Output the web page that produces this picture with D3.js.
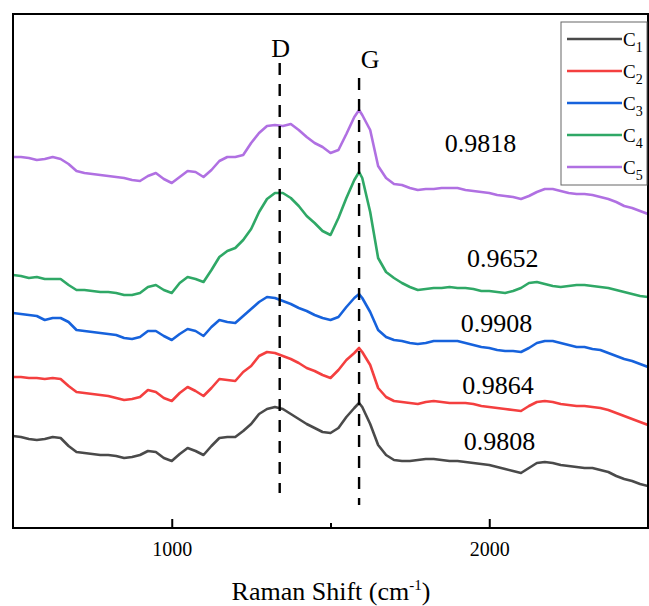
<!DOCTYPE html>
<html>
<head>
<meta charset="utf-8">
<title>Raman spectra</title>
<style>
  body { margin: 0; background: #fff; }
  text { font-family: "Liberation Serif", "Times New Roman", serif; fill: #000; }
</style>
</head>
<body>
<script src="https://cdn.jsdelivr.net/npm/d3@7/dist/d3.min.js"></script>
<script>
// Raman shift sampling (cm-1)
var shift = d3.range(500, 1576, 25).concat([1590], d3.range(1600, 2501, 25));

// intensities (a.u., offset stacked)
var c1 = [92,91,89,88,89,91,90,82,76,75,
  74,73,73,72,70,71,73,77,76,70,
  67,74,80,77,73,82,90,91,91,97,
  104,114,119,121,119,114,109,104,100,96,
  95,100,111,120,
  125,
  121,104,83,73,68,67,67,68,69,69,
  68,67,67,66,65,64,63,61,59,57,
  55,60,65,66,65,63,62,61,60,60,
  58,56,52,49,47,44,42];
var c2 = [151,151,150,150,149,150,149,142,136,135,
  134,133,132,130,128,129,131,138,136,130,
  127,135,141,137,132,140,149,148,147,156,
  162,172,176,175,172,169,165,160,157,153,
  150,158,168,175,
  180,
  176,163,140,131,127,126,125,124,126,127,
  126,125,125,125,124,122,121,120,119,118,
  117,122,126,127,126,124,123,122,122,121,
  120,118,115,112,109,106,103];
var c3 = [215,214,213,212,208,210,210,206,198,197,
  196,195,194,193,190,189,191,197,197,192,
  188,194,199,197,192,201,208,206,205,212,
  219,226,231,230,227,224,220,217,213,210,
  208,211,221,230,
  234,
  230,216,198,191,188,187,185,184,185,187,
  187,187,187,185,183,181,180,178,177,177,
  176,180,185,187,187,185,183,181,181,179,
  178,175,172,169,167,164,161];
var c4 = [253,252,250,251,249,249,249,243,238,238,
  237,236,236,235,233,233,235,241,243,238,
  235,245,251,249,246,258,271,277,280,288,
  299,316,329,335,335,330,322,312,305,297,
  293,310,330,348,
  356,
  350,316,270,256,250,245,241,238,239,240,
  240,241,240,240,239,237,237,236,235,237,
  240,245,246,244,242,241,242,243,243,242,
  241,240,238,236,234,232,231];
var c5 = [371,371,370,368,369,371,369,364,357,355,
  354,353,352,351,350,348,347,352,355,349,
  345,351,357,356,351,358,367,371,371,373,
  385,395,402,403,402,404,398,391,385,381,
  375,378,394,411,
  418,
  413,398,362,350,344,343,340,338,339,339,
  340,340,340,338,337,336,335,333,332,331,
  329,332,336,339,339,337,335,334,334,333,
  331,329,326,322,320,317,314];

var seriesNames = ["C1", "C2", "C3", "C4", "C5"];
var seriesValues = [c1, c2, c3, c4, c5];
var seriesColors = ["#4a4a4a", "#f43f3f", "#1662dc", "#2fa866", "#b070e2"];

// correlation values written next to each curve
var ratioLabels = ["0.9808", "0.9864", "0.9908", "0.9652", "0.9818"];
var ratioPos = [[1920, 78], [1915, 134], [1910, 196], [1930, 261], [1860, 376]];

// D and G band markers: position, top, bottom (a.u.)
var bands = [
  {name: "D", shift: 1340, top: 465, bottom: 35},
  {name: "G", shift: 1590, top: 450, bottom: 23}
];

var majorTicks = [1000, 2000];
var minorTicks = [1500];

var W = 649, H = 606;
var margin = {top: 14, right: 1, bottom: 78, left: 13};
var width = W - margin.left - margin.right,
    height = H - margin.top - margin.bottom;

var x = d3.scaleLinear().domain([500, 2500]).range([0, width]);
var y = d3.scaleLinear().domain([0, 514]).range([height, 0]);

var svg = d3.select("body").append("svg")
    .attr("width", W)
    .attr("height", H);
var g = svg.append("g")
    .attr("transform", "translate(" + margin.left + "," + margin.top + ")");

var clip = g.append("clipPath").attr("id", "clip");
clip.append("rect").attr("width", width).attr("height", height);

// spectra
var line = d3.line()
    .x(function(d) { return x(d[0]); })
    .y(function(d) { return y(d[1]); });

var plot = g.append("g").attr("clip-path", "url(#clip)");
seriesValues.forEach(function(vals, i) {
  plot.append("path")
      .datum(shift.map(function(s, j) { return [s, vals[j]]; }))
      .attr("fill", "none")
      .attr("stroke", seriesColors[i])
      .attr("stroke-width", 2.6)
      .attr("stroke-linejoin", "round")
      .attr("d", line);
});

// dashed band lines
bands.forEach(function(b) {
  g.append("line")
      .attr("x1", x(b.shift)).attr("x2", x(b.shift))
      .attr("y1", y(b.top)).attr("y2", y(b.bottom))
      .attr("stroke", "#000")
      .attr("stroke-width", 2.4)
      .attr("stroke-dasharray", "12,9");
});
g.append("text").attr("x", x(1340) + 1).attr("y", 43)
    .attr("text-anchor", "middle").style("font-size", "26px").text("D");
g.append("text").attr("x", x(1590) + 11).attr("y", 54)
    .attr("text-anchor", "middle").style("font-size", "26px").text("G");

// ratio labels
ratioLabels.forEach(function(t, i) {
  g.append("text")
      .attr("x", x(ratioPos[i][0]))
      .attr("y", y(ratioPos[i][1]))
      .style("font-size", "26px")
      .text(t);
});

// x axis, ticks pointing inward
var xAxis = g.append("g")
    .attr("transform", "translate(0," + height + ")")
    .call(d3.axisBottom(x).tickValues(majorTicks).tickSize(-9).tickPadding(14)
      .tickFormat(d3.format("d")));
xAxis.select(".domain").remove();
xAxis.selectAll("line").attr("stroke-width", 2);
xAxis.selectAll("text")
    .style("font-family", "Liberation Serif, Times New Roman, serif")
    .style("font-size", "20px");

var xMinor = g.append("g")
    .attr("transform", "translate(0," + height + ")")
    .call(d3.axisBottom(x).tickValues(minorTicks).tickSize(-5).tickFormat(""));
xMinor.select(".domain").remove();
xMinor.selectAll("line").attr("stroke-width", 2);

// frame
g.append("rect")
    .attr("width", width).attr("height", height)
    .attr("fill", "none")
    .attr("stroke", "#000")
    .attr("stroke-width", 2);

// axis title
var title = svg.append("text")
    .attr("x", 331).attr("y", 600)
    .attr("text-anchor", "middle")
    .style("font-size", "26px");
title.append("tspan").text("Raman Shift (cm");
title.append("tspan").attr("dy", -10).style("font-size", "15px").text("-1");
title.append("tspan").attr("dy", 10).text(")");

// legend
var legend = svg.append("g").attr("transform", "translate(561,22)");
legend.append("rect")
    .attr("width", 86).attr("height", 163)
    .attr("fill", "#fff")
    .attr("stroke", "#666")
    .attr("stroke-width", 1);
seriesNames.forEach(function(name, i) {
  var row = legend.append("g").attr("transform", "translate(0," + (17 + i * 32) + ")");
  row.append("line")
      .attr("x1", 6).attr("x2", 61)
      .attr("stroke", seriesColors[i])
      .attr("stroke-width", 2.6);
  var t = row.append("text").attr("x", 62).attr("y", 7).style("font-size", "19px");
  t.append("tspan").text(name.charAt(0));
  t.append("tspan").attr("dy", 6).style("font-size", "14px").text(name.slice(1));
});
</script>
</body>
</html>
